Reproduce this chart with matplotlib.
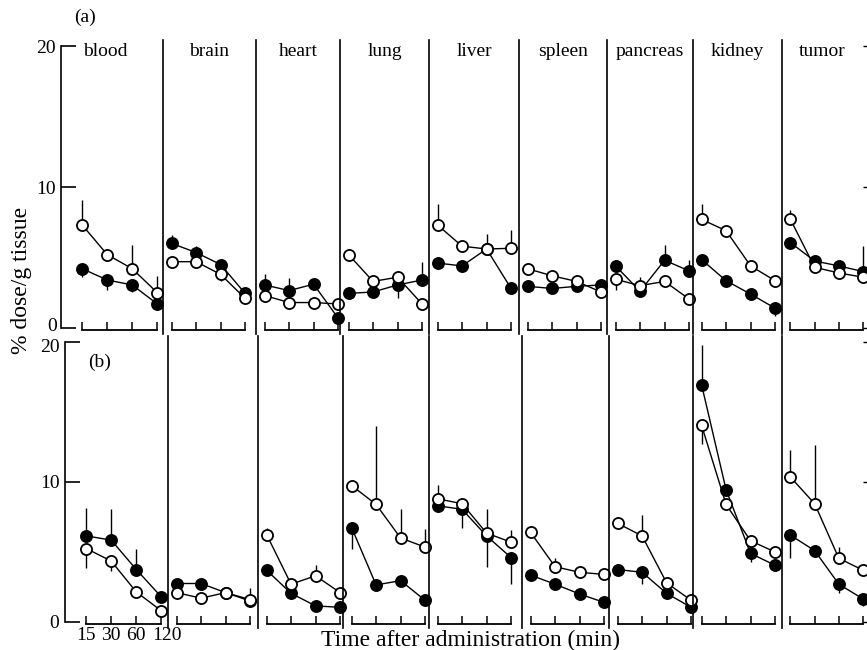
import numpy as np
import matplotlib.pyplot as plt
from matplotlib.transforms import ScaledTranslation

plt.rcParams['font.family'] = ['Liberation Serif', 'DejaVu Serif']

tissues = ['blood', 'brain', 'heart', 'lung', 'liver', 'spleen', 'pancreas', 'kidney', 'tumor']
time_labels = ['15', '30', '60', '120']

# (a) values, % dose/g tissue at 15, 30, 60, 120 min
a_open = [[7.3, 5.2, 4.2, 2.5], [4.7, 4.7, 3.8, 2.1], [2.3, 1.8, 1.8, 1.7],
          [5.2, 3.3, 3.6, 1.7], [7.3, 5.8, 5.6, 5.65], [4.2, 3.7, 3.3, 2.55],
          [3.45, 3.0, 3.3, 2.05], [7.7, 6.9, 4.4, 3.35], [7.7, 4.3, 3.9, 3.6]]
a_filled = [[4.2, 3.4, 3.05, 1.7], [6.0, 5.35, 4.5, 2.45], [3.05, 2.65, 3.1, 0.7],
            [2.45, 2.55, 3.05, 3.4], [4.6, 4.4, 5.6, 2.8], [2.95, 2.8, 2.95, 3.05],
            [4.4, 2.6, 4.8, 4.05], [4.85, 3.35, 2.4, 1.4], [6.05, 4.75, 4.4, 4.0]]
# error bar length: positive drawn upwards, negative drawn downwards
a_open_err = [[1.8, 0, 1.65, 1.2], [0, 0, -0.5, 0], [0, -0.3, 0, 0],
              [0.4, 0, 0, 0], [1.5, 0, 0, 1.3], [0, 0, 0, 0],
              [-0.75, 0.6, 0, 0], [1.1, 0, 0.3, 0], [0.65, -0.3, 0, 0]]
a_filled_err = [[-0.6, -0.7, -0.5, -0.4], [0.6, 0.45, 0, 0], [0.8, 0.9, 0, 0],
                [0, 0, -0.9, 1.3], [0, 0, 1.1, 0], [0, 0, 0, 0],
                [0, 0, 1.1, 0.8], [0, 0, 0, -0.55], [0, 0, 0, 1.8]]

# (b) values
b_open = [[5.25, 4.35, 2.15, 0.8], [2.1, 1.7, 2.1, 1.6], [6.25, 2.7, 3.3, 2.1],
          [9.75, 8.4, 6.0, 5.35], [8.8, 8.45, 6.35, 5.7], [6.4, 3.95, 3.55, 3.4],
          [7.05, 6.15, 2.8, 1.55], [14.05, 8.4, 5.8, 5.0], [10.35, 8.45, 4.55, 3.7]]
b_filled = [[6.15, 5.85, 3.75, 1.8], [2.75, 2.75, 2.1, 1.5], [3.7, 2.05, 1.15, 1.05],
            [6.75, 2.65, 2.95, 1.55], [8.3, 8.05, 6.15, 4.6], [3.35, 2.7, 2.0, 1.4],
            [3.75, 3.55, 2.05, 1.05], [16.95, 9.45, 4.9, 4.05], [6.2, 5.1, 2.7, 1.65]]
b_open_err = [[-1.4, -0.7, -0.3, 0], [0, -0.4, 0, 0], [0.5, 0, 0.8, 0.3],
              [0, 5.6, 2.1, 1.3], [1.0, 0, 1.7, 0.9], [0, 0.6, 0, 0],
              [0, 1.5, 0, 0], [-1.3, 0, 0.3, 0], [1.95, 4.2, 0.8, 0]]
b_filled_err = [[2.0, 2.2, 1.5, 0], [0, 0, 0, 0.9], [0, -0.3, 0, 0],
                [-1.55, -0.3, 0, 0], [0, -1.35, -2.2, -1.9], [0, -0.3, 0, 0],
                [0, -0.8, 0, 0], [2.85, 0, -0.6, 0], [-1.65, 0, -0.6, -0.5]]

# panel edges in pixels (left edges, then the right end)
a_edges = [61, 163, 256, 340, 429, 519, 607, 693, 782, 863]
b_edges = [65, 168, 258, 343, 429, 522, 609, 693, 782, 863]

W, H = 867, 650
fig = plt.figure(figsize=(W / 100, H / 100), dpi=100)


def shift(label, dx_px, dy_px):
    label.set_transform(label.get_transform() +
                        ScaledTranslation(dx_px / 100, dy_px / 100, fig.dpi_scale_trans))


def draw_row(edges, y_bottom_px, y_top_px, open_vals, filled_vals, open_err, filled_err, row):
    x = np.arange(4)
    for i in range(len(tissues)):
        left, right = edges[i], edges[i + 1]
        ax = fig.add_axes([left / W, 1 - y_bottom_px / H, (right - left) / W,
                           (y_bottom_px - y_top_px) / H])
        ax.patch.set_alpha(0)
        ax.set_ylim(-1, 21)
        if i == 0:
            x0, step = -0.85, 25.0
        else:
            x0, step = -0.35, 24.5
        ax.set_xlim(x0, x0 + (right - left) / step)

        for vals, errs, face in [(filled_vals[i], filled_err[i], 'black'),
                                 (open_vals[i], open_err[i], 'white')]:
            vals = np.array(vals)
            errs = np.array(errs)
            lower = np.where(errs < 0, -errs, 0)
            upper = np.where(errs > 0, errs, 0)
            ax.errorbar(x, vals, yerr=[lower, upper], fmt='none', ecolor='black',
                        elinewidth=1.0, capsize=0, zorder=2, clip_on=False)
            ax.plot(x, vals, '-o', color='black', lw=1.0, ms=8, mfc=face,
                    mec='black', mew=1.3, zorder=3, clip_on=False)

        ax.spines['top'].set_visible(False)
        ax.spines['right'].set_visible(False)
        ax.spines['bottom'].set_position(('data', -0.15))
        ax.spines['bottom'].set_bounds(0, 3)
        ax.spines['bottom'].set_linewidth(1.3)
        ax.spines['left'].set_linewidth(1.2)
        ax.set_xticks(x)
        ax.tick_params(axis='x', direction='in', length=6, width=1.1, labelsize=14)
        if i == 0 and row == 'b':
            ax.set_xticklabels(time_labels)
            ax.tick_params(axis='x', pad=2)
            shift(ax.get_xticklabels()[-1], 6, 0)
        else:
            ax.set_xticklabels([])

        if i == 0:
            ax.spines['left'].set_bounds(0, 20)
            ax.set_yticks([0, 10, 20])
            ax.tick_params(axis='y', direction='in', length=11, width=1.2,
                           labelsize=14, pad=4)
            ylabels = ax.get_yticklabels()
            if row == 'a':
                shift(ylabels[0], 2, 3)
            else:
                shift(ylabels[-1], 0, -3)
        else:
            ax.spines['left'].set_bounds(-0.4, 20.4)
            ax.set_yticks([])
        if i == len(tissues) - 1:
            ax.yaxis.set_ticks_position('right')
            ax.set_yticks([0, 10, 20])
            ax.tick_params(axis='y', direction='out', length=4, width=1.0,
                           labelright=False)

        if row == 'a':
            tx = 0.43 if i == 0 else 0.5
            ax.text(tx, 19.6, tissues[i], transform=ax.get_yaxis_transform(),
                    ha='center', va='center', fontsize=14)


draw_row(a_edges, 342, 32, a_open, a_filled, a_open_err, a_filled_err, 'a')
draw_row(b_edges, 636, 328, b_open, b_filled, b_open_err, b_filled_err, 'b')

fig.text(85 / W, 1 - 17 / H, '(a)', ha='center', va='center', fontsize=14)
fig.text(100 / W, 1 - 362 / H, '(b)', ha='center', va='center', fontsize=14)
fig.text(22 / W, 1 - 280 / H, '% dose/g tissue', rotation=90, ha='center',
         va='center', fontsize=17)
fig.text(470 / W, 1 - 640 / H, 'Time after administration (min)', ha='center',
         va='center', fontsize=17)

fig.savefig('out.png', dpi=100)
